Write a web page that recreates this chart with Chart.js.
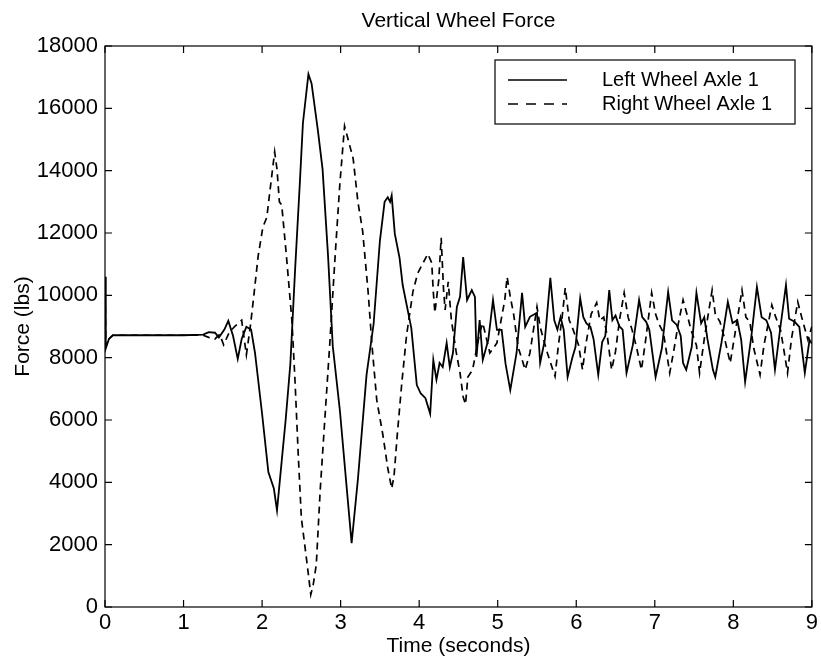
<!DOCTYPE html>
<html>
<head>
<meta charset="utf-8">
<script src="https://cdn.jsdelivr.net/npm/chart.js@4/dist/chart.umd.min.js"></script>
<style>
html,body{margin:0;padding:0;background:#fff;}
#wrap{width:821px;height:665px;}
</style>
</head>
<body>
<div id="wrap"><canvas id="c" width="821" height="665"></canvas></div>
<script>
const chartTitle = "Vertical Wheel Force";
const xAxisTitle = "Time (seconds)";
const yAxisTitle = "Force (lbs)";
const seriesNames = ["Left Wheel Axle 1", "Right Wheel Axle 1"];
const xTicks = [0,1,2,3,4,5,6,7,8,9];
const yTicks = [0,2000,4000,6000,8000,10000,12000,14000,16000,18000];

const leftTime = [0.00,0.01,0.05,0.10,0.50,1.00,1.25,1.32,1.40,1.45,1.52,1.57,1.63,1.69,1.74,1.80,1.86,1.91,2.00,2.08,2.15,2.19,2.25,2.30,2.36,2.42,2.48,2.52,2.59,2.63,2.71,2.77,2.84,2.90,2.99,3.08,3.14,3.22,3.33,3.42,3.50,3.56,3.60,3.63,3.65,3.69,3.75,3.79,3.90,3.97,4.02,4.08,4.14,4.18,4.22,4.26,4.30,4.35,4.39,4.43,4.48,4.52,4.56,4.61,4.67,4.71,4.73,4.77,4.81,4.88,4.94,4.99,5.05,5.10,5.16,5.24,5.31,5.35,5.41,5.50,5.54,5.60,5.67,5.72,5.76,5.80,5.84,5.89,5.95,5.99,6.05,6.09,6.13,6.18,6.22,6.28,6.33,6.37,6.42,6.46,6.50,6.55,6.59,6.64,6.72,6.80,6.84,6.89,6.93,7.01,7.09,7.17,7.22,7.28,7.33,7.36,7.40,7.47,7.53,7.59,7.63,7.67,7.74,7.77,7.85,7.93,7.99,8.05,8.10,8.15,8.23,8.30,8.36,8.42,8.48,8.53,8.60,8.67,8.71,8.78,8.84,8.91,8.97,9.00];
const leftForce = [10600,8300,8600,8720,8720,8720,8740,8820,8800,8650,8900,9180,8700,7960,8600,8990,8900,8150,6200,4330,3800,3100,4690,6000,7800,10810,13570,15530,17100,16800,15300,14050,11260,8370,6320,3750,2050,4100,7450,9080,11750,13000,13150,13000,13200,11970,11200,10330,8950,7120,6850,6700,6200,7930,7290,7830,7700,8470,7700,8150,9630,9950,11230,9850,10170,9950,8020,9210,7930,8570,9850,8890,8890,7800,6960,8150,10080,8990,9310,9440,7830,8570,10560,9200,8900,9300,8900,7380,8000,8340,9910,9300,9100,8990,8600,7450,8500,8700,10170,9200,9350,9000,8900,7510,8400,9850,9300,9150,8900,7380,8300,10110,9200,9050,8700,7830,7610,8340,10080,9100,9300,8600,7610,7380,8500,9790,9110,9200,8570,7220,8700,10270,9300,9200,8800,7610,9000,10330,9250,9150,8990,7510,8570,8450];

const rightTime = [0.00,0.01,0.05,0.10,0.50,1.00,1.25,1.32,1.40,1.46,1.51,1.58,1.65,1.74,1.80,1.85,1.89,1.95,2.01,2.06,2.10,2.16,2.19,2.22,2.25,2.31,2.38,2.42,2.46,2.50,2.57,2.62,2.65,2.69,2.74,2.80,2.86,2.93,2.99,3.05,3.10,3.16,3.22,3.28,3.35,3.40,3.46,3.54,3.60,3.65,3.68,3.72,3.78,3.84,3.92,3.98,4.05,4.11,4.16,4.18,4.20,4.25,4.28,4.31,4.33,4.37,4.41,4.47,4.52,4.56,4.59,4.62,4.68,4.77,4.81,4.90,4.99,5.05,5.09,5.12,5.16,5.20,5.26,5.35,5.41,5.50,5.54,5.62,5.69,5.73,5.77,5.82,5.86,5.91,5.96,6.03,6.08,6.12,6.19,6.26,6.30,6.35,6.40,6.45,6.50,6.55,6.61,6.66,6.71,6.77,6.83,6.88,6.96,7.01,7.05,7.11,7.19,7.24,7.30,7.36,7.42,7.46,7.53,7.57,7.63,7.73,7.77,7.83,7.89,7.96,8.01,8.11,8.16,8.21,8.26,8.34,8.39,8.49,8.54,8.60,8.64,8.69,8.74,8.82,8.87,8.95,9.00];
const rightForce = [10400,8350,8600,8720,8720,8720,8720,8650,8600,8750,8410,8800,9000,9200,8090,9000,9880,11260,12190,12500,13350,14600,14050,13000,12900,11260,9180,7220,4910,2860,1450,400,700,1350,3750,6070,8370,11260,13570,15430,14960,14380,13000,12070,10110,8370,6640,5490,4460,3800,4200,5490,7220,8730,10110,10700,11040,11330,11040,10110,9440,10500,11850,10200,9530,10430,9210,8200,7510,6740,6500,7380,7610,8790,9110,8150,8470,9300,9850,10590,9950,9440,8340,7610,8150,9630,8990,8250,7700,7400,8340,9300,10240,9210,8900,8400,7610,8400,9400,9760,9200,9300,8600,7610,8200,9200,10080,9300,8900,8300,7610,8500,10080,9400,9100,8800,7510,8200,9100,9850,9300,8900,8400,7510,8600,10170,9400,9150,8600,7830,8600,10170,9300,9150,8300,7450,8400,9690,9300,8900,8300,7510,8600,9790,9300,8570,9000];

const FONT = "'Liberation Sans', Arial, Helvetica, sans-serif";

function toPoints(ts, vs){ return ts.map((t,i)=>({x:t,y:vs[i]})); }

const framePlugin = {
  id: 'frame',
  afterDraw(chart){
    const ctx = chart.ctx, a = chart.chartArea;
    const xs = chart.scales.x, ys = chart.scales.y;
    ctx.save();
    ctx.strokeStyle = '#000';
    ctx.lineWidth = 1.2;
    ctx.strokeRect(a.left, a.top, a.right - a.left, a.bottom - a.top);
    const tl = 7;
    ctx.beginPath();
    xTicks.forEach(v=>{
      const px = xs.getPixelForValue(v);
      ctx.moveTo(px, a.bottom); ctx.lineTo(px, a.bottom - tl);
      ctx.moveTo(px, a.top); ctx.lineTo(px, a.top + tl);
    });
    yTicks.forEach(v=>{
      const py = ys.getPixelForValue(v);
      ctx.moveTo(a.left, py); ctx.lineTo(a.left + tl, py);
      ctx.moveTo(a.right, py); ctx.lineTo(a.right - tl, py);
    });
    ctx.stroke();

    ctx.fillStyle = '#000';
    ctx.textAlign = 'center';
    ctx.textBaseline = 'middle';
    ctx.font = '21px ' + FONT;
    ctx.fillText(chartTitle, (a.left + a.right)/2, 21);
    ctx.fillText(xAxisTitle, (a.left + a.right)/2, 646);
    ctx.save();
    ctx.translate(23, (a.top + a.bottom)/2);
    ctx.rotate(-Math.PI/2);
    ctx.fillText(yAxisTitle, 0, 0);
    ctx.restore();

    // legend
    const bx = 495, by = 60, bw = 300, bh = 64;
    ctx.fillStyle = '#fff';
    ctx.fillRect(bx, by, bw, bh);
    ctx.lineWidth = 1.2;
    ctx.strokeStyle = '#000';
    ctx.strokeRect(bx, by, bw, bh);
    const rows = [80, 104];
    ctx.lineWidth = 1.6;
    ctx.beginPath(); ctx.setLineDash([]);
    ctx.moveTo(508, rows[0]); ctx.lineTo(567, rows[0]); ctx.stroke();
    ctx.beginPath(); ctx.setLineDash([10,8]);
    ctx.moveTo(508, rows[1]); ctx.lineTo(567, rows[1]); ctx.stroke();
    ctx.setLineDash([]);
    ctx.fillStyle = '#000';
    ctx.font = '20px ' + FONT;
    ctx.textAlign = 'left';
    ctx.fillText(seriesNames[0], 602, rows[0]);
    ctx.fillText(seriesNames[1], 602, rows[1]);
    ctx.restore();
  }
};

new Chart(document.getElementById('c'), {
  type: 'line',
  data: {
    datasets: [
      { label: seriesNames[0], data: toPoints(leftTime, leftForce), borderColor: '#000', borderWidth: 1.8, pointRadius: 0, tension: 0, fill: false },
      { label: seriesNames[1], data: toPoints(rightTime, rightForce), borderColor: '#000', borderWidth: 1.7, borderDash: [7,5], pointRadius: 0, tension: 0, fill: false }
    ]
  },
  options: {
    responsive: false,
    animation: false,
    layout: { padding: { left: 0, right: 9, top: 46, bottom: 0 } },
    plugins: { legend: { display: false }, title: { display: false }, tooltip: { enabled: false } },
    scales: {
      x: {
        type: 'linear', min: 0, max: 9,
        afterBuildTicks(s){ s.ticks = xTicks.map(v=>({value:v})); },
        afterFit(s){ s.height = 58; },
        grid: { display: false, drawTicks: false },
        border: { display: false },
        ticks: { color: '#000', font: { size: 22, family: FONT }, padding: 3, maxRotation: 0, autoSkip: false, callback: v => String(v) }
      },
      y: {
        type: 'linear', min: 0, max: 18000,
        afterBuildTicks(s){ s.ticks = yTicks.map(v=>({value:v})); },
        afterFit(s){ s.width = 105; },
        grid: { display: false, drawTicks: false },
        border: { display: false },
        ticks: { color: '#000', font: { size: 22, family: FONT }, padding: 7, autoSkip: false, callback: v => String(v) }
      }
    }
  },
  plugins: [framePlugin]
});
</script>
</body>
</html>
